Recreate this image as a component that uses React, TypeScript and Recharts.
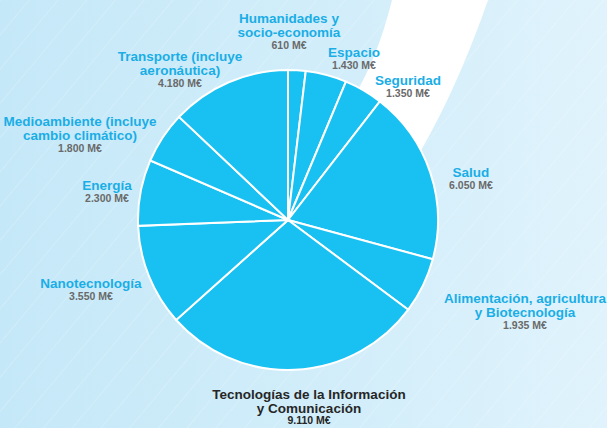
import { PieChart, Pie, Cell } from 'recharts';

// Presupuesto por área temática (M€), en sentido horario desde arriba
const categories = [
  'Humanidades y socio-economía',
  'Espacio',
  'Seguridad',
  'Salud',
  'Alimentación, agricultura y Biotecnología',
  'Tecnologías de la Información y Comunicación',
  'Nanotecnología',
  'Energía',
  'Medioambiente (incluye cambio climático)',
  'Transporte (incluye aeronáutica)',
];

const categoryLines = [
  ['Humanidades y', 'socio-economía'],
  ['Espacio'],
  ['Seguridad'],
  ['Salud'],
  ['Alimentación, agricultura', 'y Biotecnología'],
  ['Tecnologías de la Información', 'y Comunicación'],
  ['Nanotecnología'],
  ['Energía'],
  ['Medioambiente (incluye', 'cambio climático)'],
  ['Transporte (incluye', 'aeronáutica)'],
];

const values = [610, 1430, 1350, 6050, 1935, 9110, 3550, 2300, 1800, 4180];

const data = categories.map((name, i) => ({ name, value: values[i] }));

// label placement relative to pie centre (first line centre)
const labelOffsets = [
  [1, -202], [66, -168], [120, -140], [183, -48], [237, 78],
  [21, 174], [-197, 63], [-181, -35], [-208, -99], [-108, -164],
];

const W = 607;
const H = 428;
const CX = 288;
const CY = 220;
const BLUE = '#1aaee6';
const GREY = '#6a6a6a';

const fmt = (v: number) => {
  const s = String(v);
  return s.length > 3 ? s.slice(0, s.length - 3) + '.' + s.slice(-3) : s;
};

const renderLabel = (props: any) => {
  const i = props.index;
  const [dx, dy] = labelOffsets[i];
  const x = CX + dx;
  const y = CY + dy;
  const lines = categoryLines[i];
  const dark = i === 5;
  return (
    <g key={`lbl-${i}`}>
      {lines.map((l, k) => (
        <text
          key={k}
          x={x}
          y={y + k * 14}
          textAnchor="middle"
          dominantBaseline="central"
          fontSize={13.5}
          fontWeight="bold"
          fontFamily="'Liberation Sans', Arial, sans-serif"
          fill={dark ? '#262626' : BLUE}
        >
          {l}
        </text>
      ))}
      <text
        x={x}
        y={y + (lines.length - 1) * 14 + (dark ? 12 : 13)}
        textAnchor="middle"
        dominantBaseline="central"
        fontSize={10.5}
        fontWeight="bold"
        fontFamily="'Liberation Sans', Arial, sans-serif"
        fill={dark ? '#262626' : GREY}
      >
        {fmt(values[i])} M€
      </text>
    </g>
  );
};

export default function App() {
  return (
    <div
      style={{
        position: 'absolute',
        left: 0,
        top: 0,
        width: W,
        height: H,
        overflow: 'hidden',
        background: 'linear-gradient(90deg, #c5e8f8 0%, #d3eefa 60%, #e0f3fc 100%)',
      }}
    >
      <svg width={W} height={H} style={{ position: 'absolute', left: 0, top: 0 }}>
        <defs>
          <pattern id="hatch" width="22" height="22" patternUnits="userSpaceOnUse" patternTransform="rotate(40)">
            <line x1="0" y1="0" x2="0" y2="22" stroke="#ffffff" strokeWidth="0.8" strokeOpacity="0.45" />
          </pattern>
        </defs>
        <rect x={0} y={0} width={W} height={H} fill="url(#hatch)" />
        <path d="M392,0 C382,40 368,78 340,120 L420,152 C446,108 470,52 488,0 Z" fill="#ffffff" />
      </svg>
      <div style={{ position: 'absolute', left: 0, top: 0 }}>
        <PieChart width={W} height={H} margin={{ top: 0, right: 0, bottom: 0, left: 0 }}>
          <Pie
            data={data}
            dataKey="value"
            nameKey="name"
            cx={CX}
            cy={CY}
            outerRadius={150}
            startAngle={90}
            endAngle={-270}
            stroke="#ffffff"
            strokeWidth={2}
            label={renderLabel}
            labelLine={false}
            isAnimationActive={false}
          >
            {data.map((d) => (
              <Cell key={d.name} fill="#18c1f1" />
            ))}
          </Pie>
        </PieChart>
      </div>
    </div>
  );
}
